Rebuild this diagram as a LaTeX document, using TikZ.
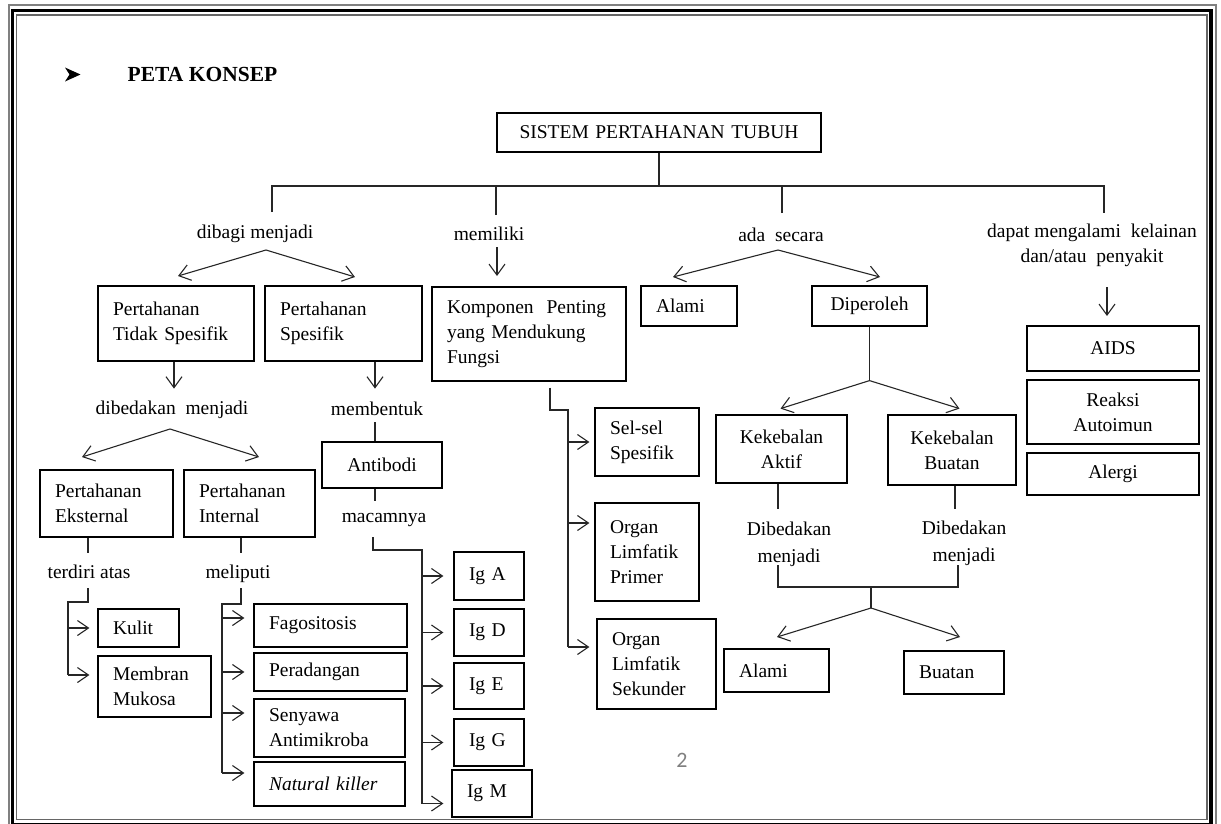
\documentclass[tikz,border=0pt]{standalone}
\usepackage{fontspec}
\setmainfont{Liberation Serif}
\newfontfamily\pgnum{Carlito}
\usetikzlibrary{arrows.meta}
\begin{document}
\begin{tikzpicture}[x=1pt,y=-1pt,
  every node/.style={font=\fontsize{19.5}{25}\selectfont, inner sep=1pt},
  bx/.style n args={3}{draw, line width=1.2pt, minimum width=#1pt, minimum height=#2pt,
     inner xsep=15pt, inner ysep=0pt, text width=#3pt, align=left},
  cbx/.style={align=center},
  lbl/.style={inner sep=0pt, align=center},
  con/.style={line width=1.1pt, draw=black!85},
  arr/.style={con, -{Straight Barb[length=11pt,width=16pt]}},
  sarr/.style={con, -{Straight Barb[length=11pt,width=15pt]}},
]
\useasboundingbox (0,0) rectangle (1221,823);
% page frame
\draw[gray, line width=1.2pt] (9,5) rectangle (1216,830);
\draw[black, line width=3.5pt] (12.5,10.5) rectangle (1211,825);
\draw[black!60, line width=1.2pt] (16.5,15) rectangle (1207,819.5);

% title
\fill[black] (65,67.5) -- (80.5,74.5) -- (65,81.5) -- (69.5,74.5) -- cycle;
\node[font=\fontsize{21.5}{25}\selectfont\bfseries, inner sep=0pt] (title) at (202.5,74) {PETA KONSEP};

% boxes
\node[bx={324}{39}{294}, cbx] (sys) at (659,132.5) {SISTEM PERTAHANAN TUBUH};
\node[bx={156}{75}{126}] (pts) at (176,323.5) {Pertahanan\\Tidak Spesifik};
\node[bx={157}{75}{127}] (ps) at (343.5,323.5) {Pertahanan\\Spesifik};
\node[bx={194}{94}{164}] (komp) at (529,334) {Komponen \ Penting\\yang Mendukung\\Fungsi};
\node[bx={96}{40}{66}] (alami1) at (689,306) {Alami};
\node[bx={115}{40}{85}, cbx] (diper) at (869.5,306) {Diperoleh};
\node[bx={172}{45}{142}, cbx] (aids) at (1113,348.5) {AIDS};
\node[bx={172}{64}{142}, cbx] (reaksi) at (1113,412) {Reaksi\\Autoimun};
\node[bx={172}{42}{142}, cbx] (alergi) at (1113,474) {Alergi};
\node[bx={120}{46}{90}, cbx] (antibodi) at (382,465) {Antibodi};
\node[bx={133}{67}{103}] (eks) at (106.5,503.5) {Pertahanan\\Eksternal};
\node[bx={131}{67}{101}] (int) at (249.5,503.5) {Pertahanan\\Internal};
\node[bx={81}{38}{51}] (kulit) at (138.5,628) {Kulit};
\node[bx={113}{61}{83}] (membran) at (154.5,686.5) {Membran\\Mukosa};
\node[bx={153}{43}{123}] (fago) at (330.5,625.5) {Fagositosis};
\node[bx={153}{38}{123}] (perad) at (330.5,672) {Peradangan};
\node[bx={151}{58}{121}] (senyawa) at (329.5,728) {Senyawa\\Antimikroba};
\node[bx={151}{44}{121}] (nk) at (329.5,784) {\textit{Natural killer}};
\node[bx={70}{48}{40}] (igA) at (489,576) {Ig A};
\node[bx={70}{47}{40}] (igD) at (489,632.5) {Ig D};
\node[bx={70}{46}{40}] (igE) at (489,686) {Ig E};
\node[bx={70}{47}{40}] (igG) at (489,742.5) {Ig G};
\node[bx={80}{47}{50}] (igM) at (492,793.5) {Ig M};
\node[bx={104}{68}{74}] (sel) at (647,442) {Sel-sel\\Spesifik};
\node[bx={104}{98}{74}] (olp) at (647,552) {Organ\\Limfatik\\Primer};
\node[bx={119}{90}{89}] (ols) at (656.5,664) {Organ\\Limfatik\\Sekunder};
\node[bx={131}{68}{101}, cbx] (aktif) at (781.5,449) {Kekebalan\\Aktif};
\node[bx={128}{70}{98}, cbx] (buatanK) at (952,450) {Kekebalan\\Buatan};
\node[bx={105}{43}{75}] (alami2) at (776.5,670.5) {Alami};
\node[bx={100}{43}{70}] (buatan2) at (954,672.5) {Buatan};

% labels
\node[lbl] (dibagi) at (255,233.5) {dibagi menjadi};
\node[lbl] (memiliki) at (489,233.5) {memiliki};
\node[lbl] (ada) at (781,235) {ada \ secara};
\node[lbl] (dapat) at (1092,245.5) {dapat mengalami \ kelainan\\dan/atau \ penyakit};
\node[lbl] (dibedakan) at (172,409.5) {dibedakan \ menjadi};
\node[lbl] (membentuk) at (377,409) {membentuk};
\node[lbl] (macamnya) at (384,519.5) {macamnya};
\node[lbl] (terdiri) at (89,571.5) {terdiri atas};
\node[lbl] (meliputi) at (238,573.5) {meliputi};
\node[lbl, font=\fontsize{19.5}{27}\selectfont] (dib1) at (789,544.3) {Dibedakan\\menjadi};
\node[lbl, font=\fontsize{19.5}{27}\selectfont] (dib2) at (964,543.5) {Dibedakan\\menjadi};
\node[lbl, font=\fontsize{22}{25}\selectfont\pgnum, text=black!50] (pg) at (682,760) {2};

% top bus
\coordinate (busL) at (272,186);
\coordinate (busR) at (1104,186);
\coordinate (bus) at (sys.south |- busL);
\coordinate (d1) at (272,212);
\coordinate (d2) at (496,215);
\coordinate (d3) at (782,213);
\coordinate (d4) at (1104,213);
\draw[con] (sys.south) -- (bus);
\draw[con] (d1) -- (busL) -- (busR) -- (d4);
\draw[con] (d2) -- (d2 |- busL);
\draw[con] (d3) -- (d3 |- busL);

% dibagi menjadi
\coordinate (a1) at (266,250);
\draw[arr] (a1) -- ++(-88,26);
\draw[arr] (a1) -- ++(89,27);
% memiliki
\coordinate (m1) at (497,247);
\draw[arr] (m1) -- ++(0,29);
% ada secara
\coordinate (a2) at (778,250);
\draw[arr] (a2) -- ++(-105,27);
\draw[arr] (a2) -- ++(102,27);
% dapat mengalami
\coordinate (k1) at (1107,287);
\draw[arr] (k1) -- ++(0,29);

% tidak spesifik branch
\draw[arr] ([xshift=-2pt]pts.south) -- ++(0,27);
\coordinate (a3) at (170,429);
\draw[arr] (a3) -- ++(-88,28);
\draw[arr] (a3) -- ++(89,28);

% eksternal
\draw[con] ([xshift=-18.5pt]eks.south) -- ++(0,15);
\coordinate (t1) at (88,588);
\coordinate (t2) at (68,602);
\coordinate (mA) at ([yshift=11.5pt]membran.west);
\draw[con] (t1) |- (t2) -- (t2 |- mA);
\draw[sarr, shorten >=8pt] (t2 |- kulit.west) -- (kulit.west);
\draw[sarr, shorten >=8pt] (t2 |- mA) -- (mA);

% internal
\draw[con] ([xshift=-8.5pt]int.south) -- ++(0,15);
\coordinate (u1) at (241,588);
\coordinate (u2) at (222,604);
\coordinate (fA) at ([yshift=7.5pt]fago.west);
\coordinate (pA) at (perad.west);
\coordinate (sA) at ([yshift=15pt]senyawa.west);
\coordinate (nA) at ([yshift=11pt]nk.west);
\draw[con] (u1) |- (u2) -- (u2 |- nA);
\foreach \t in {fA,pA,sA,nA} \draw[sarr, shorten >=9pt] (u2 |- \t) -- (\t);

% spesifik branch
\draw[arr] ([xshift=31.5pt]ps.south) -- ++(0,27);
\coordinate (mb1) at (375,422);
\draw[con] (mb1) -- (mb1 |- antibodi.north);
\draw[con] (antibodi.south -| mb1) -- ++(0,12);
\coordinate (mc1) at (373,537);
\coordinate (igbus) at (422,550);
\coordinate (gM) at ([yshift=-10pt]igM.west);
\draw[con] (mc1) |- (igbus) -- (igbus |- gM);
\foreach \t in {igA.west,igD.west,igE.west,igG.west} \draw[sarr, shorten >=10pt] (igbus |- \t) -- (\t);
\draw[sarr, shorten >=8pt] (igbus |- gM) -- (gM);

% komponen branch
\coordinate (v2) at (568,410);
\coordinate (oA) at ([yshift=29pt]olp.west);
\coordinate (osA) at ([yshift=17pt]ols.west);
\draw[con] ([xshift=21pt,yshift=-6pt]komp.south) |- (v2) -- (v2 |- osA);
\draw[sarr, shorten >=5pt] (v2 |- sel.west) -- (sel.west);
\draw[sarr, shorten >=5pt] (v2 |- oA) -- (oA);
\draw[sarr, shorten >=7pt] (v2 |- osA) -- (osA);

% diperoleh branch
\coordinate (a4) at ([yshift=-54pt]diper.south);
\draw[con] (diper.south) -- (a4);
\draw[arr] (a4) -- ++(-89,28);
\draw[arr] (a4) -- ++(90,28);
\draw[con] ([xshift=-3.5pt]aktif.south) -- ++(0,25);
\draw[con] ([xshift=3pt]buatanK.south) -- ++(0,23);
\coordinate (w1) at (778,565);
\coordinate (w2) at (958,565);
\draw[con] (w1) -- ++(0,22) -| (w2);
\coordinate (a5) at (871,587);
\coordinate (a6) at (871,608);
\draw[con] (a5) -- (a6);
\draw[arr] (a6) -- ++(-94,29);
\draw[arr] (a6) -- ++(89,29);
\end{tikzpicture}
\end{document}
